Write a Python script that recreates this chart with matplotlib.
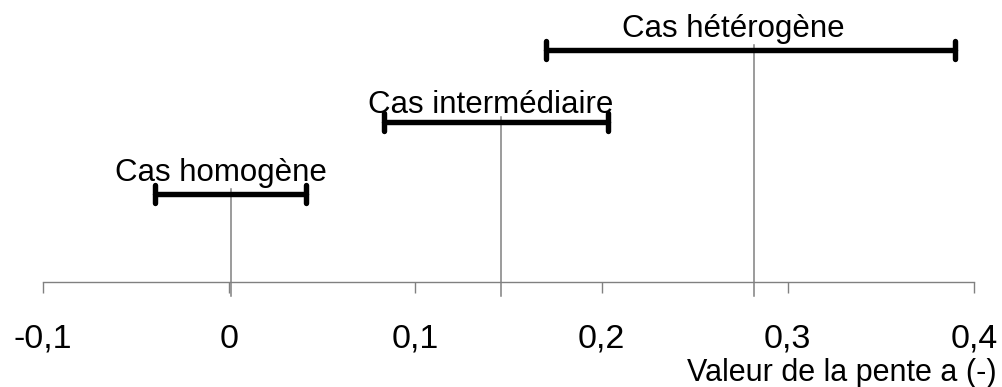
import matplotlib.pyplot as plt
from matplotlib.markers import MarkerStyle

# Plages de la pente a pour chaque cas
cas = ["Cas homogène", "Cas intermédiaire", "Cas hétérogène"]
pente_min = [-0.040, 0.083, 0.170]
pente_max = [0.041, 0.2035, 0.390]
pente_moy = [0.0012, 0.146, 0.282]

ticks = [-0.1, 0, 0.1, 0.2, 0.3, 0.4]
tick_labels = ["-0,1", "0", "0,1", "0,2", "0,3", "0,4"]

plt.rcParams['font.family'] = ['Liberation Sans', 'DejaVu Sans']
gris = "#808080"

fig = plt.figure(figsize=(10.02, 3.87), dpi=100)
ax = fig.add_axes([43 / 1002, 105 / 387, 931 / 1002, 282 / 387])

niveaux = [1, 2, 3]
decalage_x = [-9, -5, -17]
decalage_y = [13, 9, 13]

for i, nom in enumerate(cas):
    y = niveaux[i]
    # trait vertical gris de la valeur moyenne, jusque sous l'axe
    ax.plot([pente_moy[i], pente_moy[i]], [y + 0.07, -0.42], color=gris,
            lw=1.1, clip_on=False, zorder=1)
    eb = ax.errorbar(pente_moy[i], y,
                     xerr=[[pente_moy[i] - pente_min[i]], [pente_max[i] - pente_moy[i]]],
                     fmt='none', ecolor='black', elinewidth=3.9, capsize=6.2,
                     capthick=3.9, zorder=2)
    for cap in eb[1]:
        cap.set_marker(MarkerStyle('|', capstyle='round'))
    for barre in eb[2]:
        barre.set_capstyle('round')
    milieu = (pente_min[i] + pente_max[i]) / 2
    ax.annotate(nom, (milieu, y), xytext=(decalage_x[i], decalage_y[i]),
                textcoords='offset pixels', ha='center', va='baseline',
                fontsize=22.5)

ax.set_xlim(-0.1, 0.4)
ax.set_ylim(-16 / 72, -16 / 72 + 282 / 72)

for s in ['top', 'right', 'left']:
    ax.spines[s].set_visible(False)
ax.spines['bottom'].set_color(gris)
ax.spines['bottom'].set_linewidth(1.0)
ax.set_yticks([])
ax.set_xticks(ticks)
ax.set_xticklabels(tick_labels)
ax.tick_params(axis='x', direction='out', length=8, width=1.0, color=gris,
               labelsize=24.5, pad=22)

fig.text(997 / 1002, 6 / 387, "Valeur de la pente a (-)", ha='right',
         va='baseline', fontsize=22)

fig.savefig("out.png", dpi=100)
